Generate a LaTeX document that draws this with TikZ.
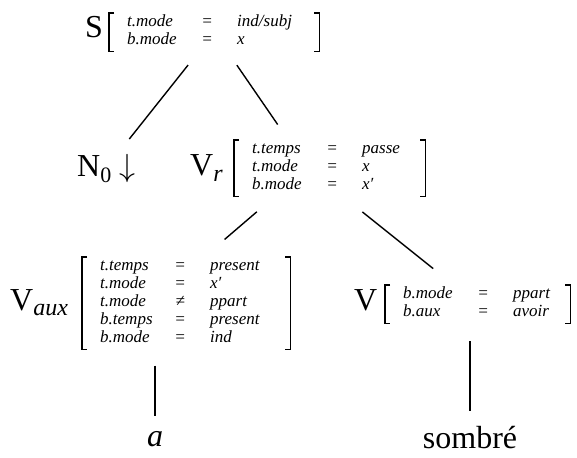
\documentclass[tikz,border=0pt]{standalone}
\usepackage{fix-cm}
\usepackage{fontspec}
\setmainfont{Liberation Serif}
\usepackage{array}
\usetikzlibrary{fit}

\begin{document}
\begin{tikzpicture}[
  x=1pt, y=-1pt,
  cat/.style={font=\fontsize{32}{32}\selectfont, inner sep=0pt},
  avm/.style={font=\fontsize{17}{18}\selectfont\itshape, align=left, inner xsep=18pt, inner ysep=1pt, anchor=north west},
  group/.style={inner sep=0pt},
  bracket/.style={line width=1.4pt},
  branch/.style={line width=1.4pt}
]
\useasboundingbox (0,0) rectangle (577,457);

% Nodes
\node[cat, anchor=base west] (s) at (85,37.5) {S};
\node[avm, text width=174pt] (sfs) at (109,13) {%
  \begin{tabular}{@{}p{72pt}@{}>{\centering\arraybackslash}p{16pt}@{\hspace{22pt}}l@{}}
  t.mode & = & ind/subj\\
  b.mode & = & x
  \end{tabular}};

\node[cat, anchor=base west] (nzero) at (77,176) {N\raisebox{-6pt}{\fontsize{22}{22}\selectfont 0}\hspace{8pt}$\downarrow$};

\node[cat, anchor=base west] (vr) at (190,175) {V\raisebox{-6pt}{\fontsize{24}{24}\selectfont\itshape r}};
\node[avm, text width=155pt] (vrfs) at (234,140) {%
  \begin{tabular}{@{}p{72pt}@{}>{\centering\arraybackslash}p{16pt}@{\hspace{22pt}}l@{}}
  t.temps & = & passe\\
  t.mode & = & x\\
  b.mode & = & x′
  \end{tabular}};

\node[cat, anchor=base west] (vaux) at (10,310) {V\raisebox{-5pt}{\fontsize{24}{24}\selectfont\itshape aux}};
\node[avm, text width=172pt] (vauxfs) at (82,257) {%
  \begin{tabular}{@{}p{72pt}@{}>{\centering\arraybackslash}p{16pt}@{\hspace{22pt}}l@{}}
  t.temps & = & present\\
  t.mode & = & x′\\
  t.mode & ≠ & ppart\\
  b.temps & = & present\\
  b.mode & = & ind
  \end{tabular}};

\node[cat, anchor=base west] (v) at (354,310) {V};
\node[avm, text width=149pt] (vfs) at (385,285) {%
  \begin{tabular}{@{}p{72pt}@{}>{\centering\arraybackslash}p{16pt}@{\hspace{22pt}}l@{}}
  b.mode & = & ppart\\
  b.aux & = & avoir
  \end{tabular}};

\node[cat, anchor=base] (a) at (155,446) {\itshape a};
\node[cat, anchor=base] (sombre) at (470,448) {sombré};

\node[group, fit=(vr)(vrfs)] (vrgroup) {};
\node[group, fit=(vaux)(vauxfs)] (vauxgroup) {};

% Brackets
\foreach \f in {sfs, vrfs, vauxfs, vfs} {
  \draw[bracket] ([xshift=5pt]\f.north west) -- (\f.north west) -- (\f.south west) -- ([xshift=5pt]\f.south west);
  \draw[bracket] ([xshift=-5pt]\f.north east) -- (\f.north east) -- (\f.south east) -- ([xshift=-5pt]\f.south east);
}

% Edges
\draw[branch, shorten <=42pt, shorten >=37pt] (sfs.center) -- (nzero.center);
\draw[branch, shorten <=40pt, shorten >=53pt] (sfs.center) -- (vrgroup.center);
\draw[branch, shorten <=67pt, shorten >=98pt] (vrgroup.center) -- (vauxgroup.center);
\draw[branch, shorten <=70pt, shorten >=57pt] (vrgroup.center) -- (vfs.center);
\draw[branch, shorten <=16pt, shorten >=15pt] (vauxgroup.south -| a.north) -- (a.north);
\draw[branch, shorten <=18pt, shorten >=15pt] (vfs.south -| sombre.north) -- (sombre.north);
\end{tikzpicture}
\end{document}
